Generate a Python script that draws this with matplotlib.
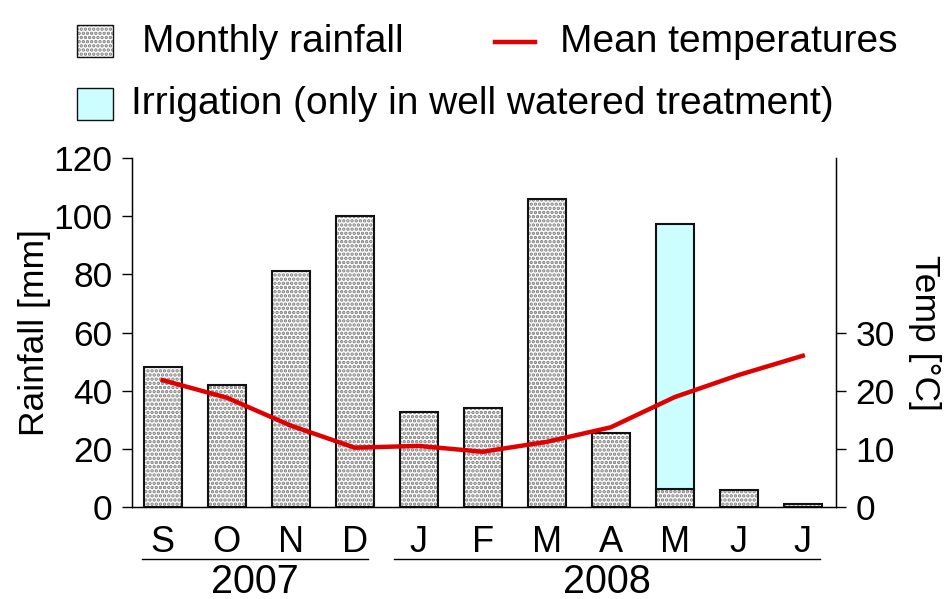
import matplotlib
matplotlib.use("Agg")
import matplotlib.pyplot as plt
from matplotlib.patches import Rectangle
from matplotlib.lines import Line2D
import matplotlib.transforms as mtransforms

plt.rcParams['font.family'] = ['Liberation Sans', 'DejaVu Sans']
plt.rcParams['hatch.linewidth'] = 1.7

months = ["S", "O", "N", "D", "J", "F", "M", "A", "M", "J", "J"]
rainfall = [48, 42, 81, 100, 32.5, 34, 106, 25.5, 6.2, 6, 1.2]
irrigation = [0, 0, 0, 0, 0, 0, 0, 0, 91, 0, 0]
temperature = [21.8, 18.8, 14.0, 10.2, 10.5, 9.5, 11.2, 13.7, 18.9, 22.7, 26.0]
years = ["2007", "2008"]
year_spans = [(-0.33, 3.2), (3.62, 10.27)]

FS_TICK = 25.5
FS_MONTH = 26
FS_YEAR = 28.5
FS_LEG = 28
FS_LAB = 25.5
DOT = '#7a7a7a'
x = list(range(len(months)))

fig = plt.figure(figsize=(9.48, 5.99), dpi=100)
ax = fig.add_axes([132/948, 1-507/599, (836-132)/948, (507-158)/599])

# rainfall bars: hatch layer + outline layer
ax.bar(x, rainfall, width=0.6, facecolor='white', edgecolor=DOT,
       hatch='....', linewidth=0, zorder=2)
ax.bar(x, rainfall, width=0.6, facecolor='none', edgecolor='#111111',
       linewidth=1.5, zorder=3)
irr_x = [xi for xi, v in zip(x, irrigation) if v > 0]
irr_v = [v for v in irrigation if v > 0]
irr_b = [r for r, v in zip(rainfall, irrigation) if v > 0]
ax.bar(irr_x, irr_v, bottom=irr_b, width=0.6, facecolor='#ccfdff',
       edgecolor='#111111', linewidth=1.5, zorder=3)

ax.set_xlim(-0.48, 10.52)
ax.set_ylim(0, 120)
ax.set_yticks([0, 20, 40, 60, 80, 100, 120])
ax.set_xticks(x)
ax.set_xticklabels(months)
ax.tick_params(axis='x', length=0, pad=13, labelsize=FS_MONTH)
ax.tick_params(axis='y', direction='out', length=7, width=1, pad=7, labelsize=FS_TICK)
ax.spines['top'].set_visible(False)
for s in ax.spines.values():
    s.set_linewidth(1)
ax.set_ylabel("Rainfall [mm]", fontsize=FS_LAB, va='center')
ax.yaxis.set_label_coords(-0.138, 0.5)

ax2 = ax.twinx()
ax2.plot(x, temperature, color='#e00000', linewidth=3.2, zorder=5)
ax2.set_ylim(0, 60)
ax2.set_yticks([0, 10, 20, 30])
ax2.tick_params(axis='y', direction='out', length=7, width=1, pad=7, labelsize=FS_TICK)
ax2.spines['top'].set_visible(False)
ax2.set_ylabel("Temp [°C]", fontsize=FS_LAB, rotation=270, va='center')
ax2.yaxis.set_label_coords(1.126, 0.5)

# year annotations
trans = mtransforms.blended_transform_factory(ax.transData, ax.transAxes)
for yr, (a, b) in zip(years, year_spans):
    ax.add_line(Line2D([a, b], [-0.149, -0.149], transform=trans, color='black',
                       linewidth=1, clip_on=False))
    ax.text((a + b) / 2, -0.16, yr, transform=trans, ha='center', va='top',
            fontsize=FS_YEAR)

# legend (manual)
fig.add_artist(Rectangle((77/948, 1-57/599), 36/948, 32/599, transform=fig.transFigure,
                         facecolor='white', edgecolor=DOT, hatch='....', linewidth=0))
fig.add_artist(Rectangle((77/948, 1-57/599), 36/948, 32/599, transform=fig.transFigure,
                         facecolor='none', edgecolor='#111111', linewidth=1))
fig.text(142/948, 1-42/599, "Monthly rainfall", fontsize=FS_LEG, va='center', ha='left')
fig.add_artist(Line2D([495/948, 535/948], [1-42/599, 1-42/599], transform=fig.transFigure,
                      color='#e00000', linewidth=3.2))
fig.text(560/948, 1-42/599, "Mean temperatures", fontsize=FS_LEG, va='center', ha='left')
fig.add_artist(Rectangle((77/948, 1-120/599), 36/948, 32/599, transform=fig.transFigure,
                         facecolor='#ccfdff', edgecolor='#111111', linewidth=1))
fig.text(131/948, 1-104/599, "Irrigation (only in well watered treatment)", fontsize=FS_LEG,
         va='center', ha='left')

fig.savefig("out.png", dpi=100)
